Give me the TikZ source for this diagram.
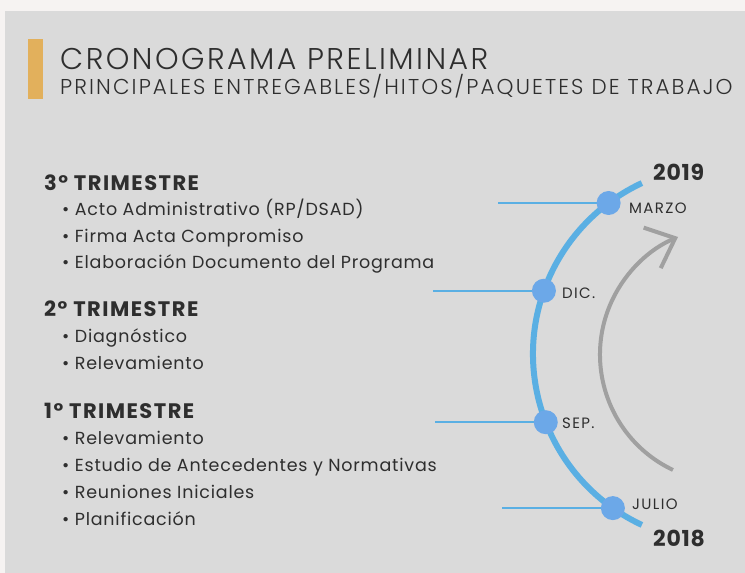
\documentclass[tikz,border=0pt]{standalone}
\usepackage{fontspec}
\setmainfont{Poppins}
\newfontfamily\thinfont{Poppins Light}
\definecolor{panel}{HTML}{DADADA}
\definecolor{topstrip}{HTML}{F6F3F2}
\definecolor{gold}{HTML}{E2B05C}
\definecolor{arcblue}{HTML}{5AAFE3}
\definecolor{dotblue}{HTML}{6CA8E8}
\definecolor{ink}{HTML}{2E2E2E}
\definecolor{arrowgray}{HTML}{A0A0A0}
\usetikzlibrary{arrows.meta}
\begin{document}
\begin{tikzpicture}[x=1pt,y=-1pt,
  every node/.style={inner sep=0pt,text=ink},
  hdr/.style={anchor=base west,font=\bfseries\fontsize{21}{21}\selectfont\addfontfeature{LetterSpace=7}},
  item/.style={anchor=base west,font=\fontsize{17.5}{17.5}\selectfont\addfontfeature{LetterSpace=4.5}},
  month/.style={anchor=west,font=\fontsize{15}{15}\selectfont\addfontfeature{LetterSpace=9}},
  year/.style={anchor=west,font=\bfseries\fontsize{22}{22}\selectfont\addfontfeature{LetterSpace=3.5}},
  dot/.style={circle,fill=dotblue,minimum size=24pt},
  tick/.style={arcblue,line width=2pt}]
\useasboundingbox (0,0) rectangle (745,573);
\fill[topstrip] (0,0) rectangle (745,573);
\fill[panel] (5,11) rectangle (745,573);
\fill[gold] (28,39) rectangle (43,99);
\node[anchor=base west,font=\thinfont\fontsize{30}{30}\selectfont\addfontfeature{LetterSpace=8.2}] (title) at (60,69) {CRONOGRAMA PRELIMINAR};
\node[anchor=base west,font=\thinfont\fontsize{21.5}{21.5}\selectfont\addfontfeature{LetterSpace=9.8}] (subtitle) at (60,94) {PRINCIPALES ENTREGABLES/HITOS/PAQUETES DE TRABAJO};
% trimestres
\node[hdr] (t3) at (44,190) {3° TRIMESTRE};
\node[item] (t3a) at (62,215) {• Acto Administrativo (RP/DSAD)};
\node[item] (t3b) at (62,242) {• Firma Acta Compromiso};
\node[item] (t3c) at (62,268) {• Elaboración Documento del Programa};
\node[hdr] (t2) at (44,316) {2° TRIMESTRE};
\node[item] (t2a) at (62,342) {• Diagnóstico};
\node[item] (t2b) at (62,369) {• Relevamiento};
\node[hdr] (t1) at (44,418) {1° TRIMESTRE};
\node[item] (t1a) at (62,444) {• Relevamiento};
\node[item] (t1b) at (62,471) {• Estudio de Antecedentes y Normativas};
\node[item] (t1c) at (62,498) {• Reuniones Iniciales};
\node[item] (t1d) at (62,525) {• Planificación};
% linea de tiempo
\coordinate (c) at (721.6,354);
\draw[arcblue,line width=6pt] (c) ++(115:188.6) arc[start angle=115,end angle=245,radius=188.6];
\path (c) ++(233.2:188.6) coordinate (marzo);
\path (c) ++(199.6:188.6) coordinate (dic);
\path (c) ++(158.8:188.6) coordinate (sep);
\path (c) ++(125.2:188.6) coordinate (julio);
\coordinate (m1) at (498,0);
\coordinate (m2) at (433,0);
\coordinate (m3) at (435,0);
\coordinate (m4) at (502,0);
\draw[tick] (m1 |- marzo) -- (marzo);
\draw[tick] (m2 |- dic) -- (dic);
\draw[tick] (m3 |- sep) -- (sep);
\draw[tick] (m4 |- julio) -- (julio);
\node[dot] (d1) at (marzo) {};
\node[dot] (d2) at (dic) {};
\node[dot] (d3) at (sep) {};
\node[dot] (d4) at (julio) {};
\node[month] (l1) at (629,208) {MARZO};
\node[month] (l2) at (562,293) {DIC.};
\node[month] (l3) at (562,423) {SEP.};
\node[month] (l4) at (632,504) {JULIO};
\node[year] (y1) at (653,172) {2019};
\node[year] (y2) at (653,538) {2018};
% flecha
\coordinate (g) at (727.7,354.6);
\draw[arrowgray,line width=4pt,-{Straight Barb[length=25pt,width=44pt]}] (g) ++(115.4:127.7) arc[start angle=115.4,end angle=247.1,radius=127.7];
\end{tikzpicture}
\end{document}
